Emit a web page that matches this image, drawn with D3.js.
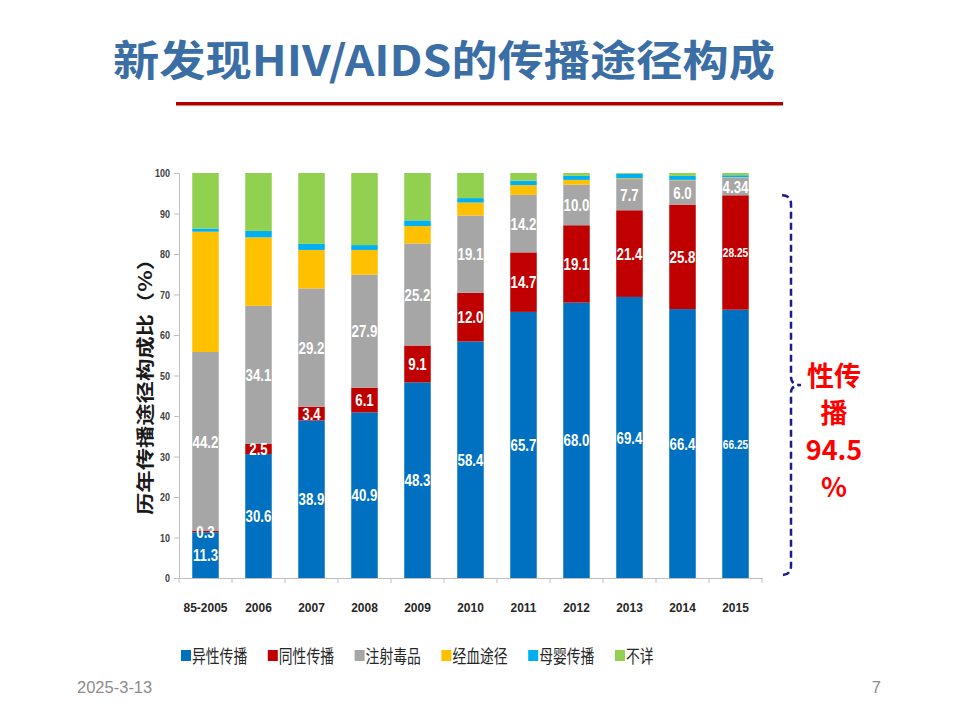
<!DOCTYPE html>
<html>
<head>
<meta charset="utf-8">
<script src="https://cdn.jsdelivr.net/npm/d3@7"></script>
<style>
  body { margin: 0; background: #fff; }
  svg { display: block; }
  .narrow { font-family: "Liberation Sans", Arial, sans-serif; }
  .cjk { font-family: "Noto Sans CJK SC", "Noto Sans", sans-serif; }
</style>
</head>
<body>
<svg width="960" height="720"></svg>
<script>
// data
const categories = ["85-2005", "2006", "2007", "2008", "2009", "2010", "2011", "2012", "2013", "2014", "2015"];
const seriesNames = ["异性传播", "同性传播", "注射毒品", "经血途径", "母婴传播", "不详"];
const hetero  = [11.3, 30.6, 38.9, 40.9, 48.3, 58.4, 65.7, 68.0, 69.4, 66.4, 66.25];
const homo    = [0.3, 2.5, 3.4, 6.1, 9.1, 12.0, 14.7, 19.1, 21.4, 25.8, 28.25];
const idu     = [44.2, 34.1, 29.2, 27.9, 25.2, 19.1, 14.2, 10.0, 7.7, 6.0, 4.34];
const blood   = [29.7, 16.9, 9.5, 6.1, 4.3, 3.2, 2.4, 1.2, 0.2, 0.1, 0.1];
const mother  = [0.8, 1.6, 1.5, 1.2, 1.4, 1.1, 1.1, 1.0, 1.1, 1.0, 0.5];
const unknown = [13.7, 14.3, 17.5, 17.8, 11.7, 6.2, 1.9, 0.7, 0.2, 0.7, 0.56];
const yTicks = [0, 10, 20, 30, 40, 50, 60, 70, 80, 90, 100];
const sexualTotal = 94.5;

const colors = ["#0070C0", "#C00000", "#A6A6A6", "#FFC000", "#00B0F0", "#92D050"];
const labelled = [0, 1, 2]; // series that carry value labels

const svg = d3.select("svg");

const rows = categories.map((c, i) => ({
    cat: c,
    s0: hetero[i], s1: homo[i], s2: idu[i], s3: blood[i], s4: mother[i], s5: unknown[i]
}));
const keys = ["s0", "s1", "s2", "s3", "s4", "s5"];
const stacked = d3.stack().keys(keys)(rows);

const x = d3.scaleBand()
    .domain(categories)
    .range([179, 762])
    .paddingInner(0.5)
    .paddingOuter(0.25);

const y = d3.scaleLinear()
    .domain([0, 100])
    .range([578, 173]);

// the slide uses a condensed font, so squeeze latin text horizontally
const squeeze = 0.78;

// title
svg.append("text")
    .attr("class", "cjk")
    .attr("x", 113)
    .attr("y", 76)
    .attr("textLength", 662)
    .attr("lengthAdjust", "spacingAndGlyphs")
    .style("font-size", "42px")
    .style("font-weight", "bold")
    .style("fill", "#3A6EA5")
    .text("新发现HIV/AIDS的传播途径构成");

svg.append("rect")
    .attr("x", 176).attr("y", 102)
    .attr("width", 607).attr("height", 3.5)
    .style("fill", "#B00000");

// bars
const layer = svg.append("g").selectAll("g")
    .data(stacked)
    .enter().append("g")
    .style("fill", (d, i) => colors[i]);

layer.selectAll("rect")
    .data(d => d)
    .enter().append("rect")
    .attr("x", d => x(d.data.cat))
    .attr("y", d => y(d[1]))
    .attr("width", x.bandwidth())
    .attr("height", d => y(d[0]) - y(d[1]));

// value labels
const fmt = v => Math.abs(v * 10 - Math.round(v * 10)) < 1e-6 ? v.toFixed(1) : v.toFixed(2);

labelled.forEach(k => {
    svg.append("g").selectAll("text")
        .data(stacked[k])
        .enter().append("text")
        .attr("class", "narrow")
        .attr("transform", d => `translate(${x(d.data.cat) + x.bandwidth() / 2},${(y(d[0]) + y(d[1])) / 2}) scale(${squeeze},1)`)
        .attr("dy", "0.36em")
        .attr("text-anchor", "middle")
        .style("font-weight", "bold")
        .style("font-size", d => fmt(d[1] - d[0]).length > 4 ? "13px" : "17px")
        .style("fill", "#fff")
        .text(d => fmt(d.data[keys[k]]));
});

// y axis
const yAxis = svg.append("g")
    .attr("transform", `translate(${x.range()[0]},0)`)
    .call(d3.axisLeft(y).tickValues(yTicks).tickSize(5).tickPadding(4));
yAxis.selectAll("path, line").style("stroke", "#BFBFBF");
yAxis.selectAll("text")
    .attr("class", "narrow")
    .attr("x", -9 / squeeze)
    .attr("transform", `scale(${squeeze},1)`)
    .style("font-size", "11.5px")
    .style("font-weight", "bold")
    .style("fill", "#404040");

// x axis
const xAxis = svg.append("g")
    .attr("transform", `translate(0,${y(0)})`)
    .call(d3.axisBottom(x).tickSize(0).tickPadding(25));
xAxis.select(".domain").style("stroke", "#BFBFBF");
xAxis.selectAll("text")
    .attr("class", "narrow")
    .attr("transform", "scale(0.92,1)")
    .style("font-size", "13px")
    .style("font-weight", "bold")
    .style("fill", "#262626");
xAxis.selectAll(".sep")
    .data(d3.range(categories.length + 1))
    .enter().append("line")
    .attr("x1", i => x.range()[0] + i * x.step())
    .attr("x2", i => x.range()[0] + i * x.step())
    .attr("y1", 0).attr("y2", 5)
    .style("stroke", "#BFBFBF");

// y title
svg.append("text")
    .attr("class", "cjk")
    .attr("transform", `translate(152,${(248 + 515) / 2}) rotate(-90)`)
    .attr("text-anchor", "middle")
    .attr("textLength", 267)
    .attr("lengthAdjust", "spacingAndGlyphs")
    .style("font-size", "18px")
    .style("font-weight", "bold")
    .style("fill", "#1a1a1a")
    .text("历年传播途径构成比（%）");

// legend
const legend = svg.append("g").selectAll("g")
    .data(seriesNames)
    .enter().append("g")
    .attr("transform", (d, i) => `translate(${181 + i * 86.8},650)`);
legend.append("rect")
    .attr("width", 10).attr("height", 11)
    .style("fill", (d, i) => colors[i]);
legend.append("text")
    .attr("class", "cjk")
    .attr("x", 11)
    .attr("y", 13)
    .attr("textLength", d => d.length * 13.8)
    .attr("lengthAdjust", "spacingAndGlyphs")
    .style("font-size", "18px")
    .style("fill", "#262626")
    .text(d => d);

// dashed brace for sexual transmission
const bx = 791, yTop = y(sexualTotal), yBot = y(0) - 3, yMid = 385;
const brace = d3.path();
brace.moveTo(bx - 9, yTop);
brace.quadraticCurveTo(bx, yTop, bx, yTop + 9);
brace.lineTo(bx, yMid - 8);
brace.quadraticCurveTo(bx, yMid, bx + 10, yMid);
brace.quadraticCurveTo(bx, yMid, bx, yMid + 8);
brace.lineTo(bx, yBot - 9);
brace.quadraticCurveTo(bx, yBot, bx - 9, yBot);
svg.append("path")
    .attr("d", brace.toString())
    .style("fill", "none")
    .style("stroke", "#1C1C8C")
    .style("stroke-width", 2.5)
    .style("stroke-dasharray", "7,4");

const note = ["性传", "播", sexualTotal.toFixed(1), "%"];
svg.append("g").selectAll("text")
    .data(note)
    .enter().append("text")
    .attr("class", "cjk")
    .attr("x", 834)
    .attr("y", (d, i) => 386 + i * 37)
    .attr("text-anchor", "middle")
    .style("font-size", "27px")
    .style("font-weight", "bold")
    .style("fill", "#FF0000")
    .text(d => d);

// footer
svg.append("text")
    .attr("class", "narrow")
    .attr("x", 77).attr("y", 693)
    .style("font-size", "16.5px")
    .style("fill", "#8C8C8C")
    .text("2025-3-13");
svg.append("text")
    .attr("class", "narrow")
    .attr("x", 881).attr("y", 693)
    .attr("text-anchor", "end")
    .style("font-size", "16.5px")
    .style("fill", "#8C8C8C")
    .text("7");
</script>
</body>
</html>
